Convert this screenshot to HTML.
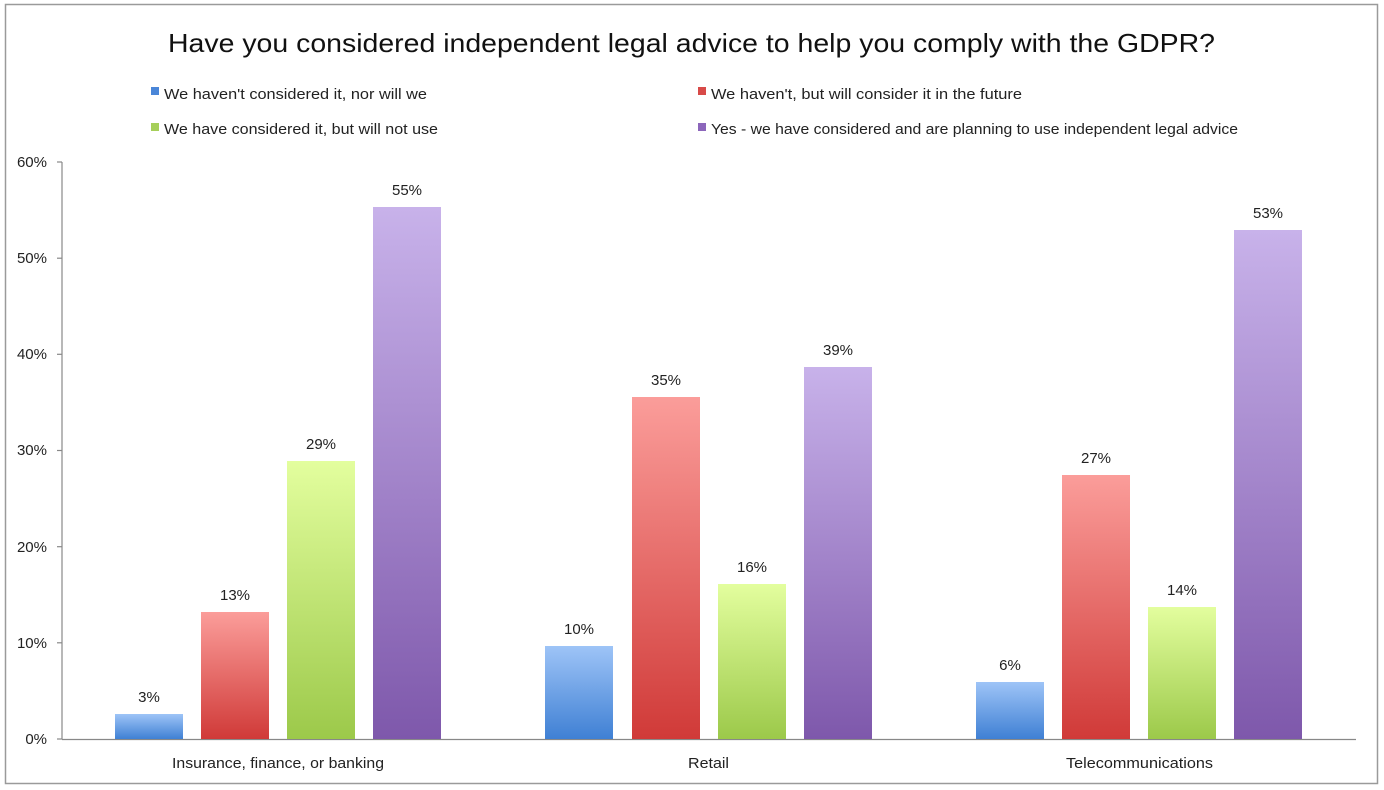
<!DOCTYPE html>
<html><head><meta charset="utf-8"><style>
html,body{margin:0;padding:0;background:#fff;}
svg{display:block;font-family:"Liberation Sans",sans-serif;}
</style></head><body>
<svg width="1384" height="790" viewBox="0 0 1384 790" xmlns="http://www.w3.org/2000/svg">
<defs>
<linearGradient id="gb" x1="0" y1="0" x2="0" y2="1"><stop offset="0" stop-color="#9ec4f7"/><stop offset="1" stop-color="#3f80d4"/></linearGradient>
<linearGradient id="gr" x1="0" y1="0" x2="0" y2="1"><stop offset="0" stop-color="#fb9d9a"/><stop offset="1" stop-color="#d03a38"/></linearGradient>
<linearGradient id="gg" x1="0" y1="0" x2="0" y2="1"><stop offset="0" stop-color="#e3fe9e"/><stop offset="1" stop-color="#9cc94a"/></linearGradient>
<linearGradient id="gp" x1="0" y1="0" x2="0" y2="1"><stop offset="0" stop-color="#c8b2ea"/><stop offset="1" stop-color="#7e58ab"/></linearGradient>
</defs>
<rect x="5.5" y="4.5" width="1372" height="779" fill="#fff" stroke="#9a9a9a" stroke-width="1.5"/>
<text x="168" y="52" font-size="26" fill="#111" textLength="1047" lengthAdjust="spacingAndGlyphs">Have you considered independent legal advice to help you comply with the GDPR?</text>
<g font-size="15" fill="#222">
<rect x="151" y="87" width="8" height="8" fill="#4a86d8"/><text x="164" y="99" textLength="263" lengthAdjust="spacingAndGlyphs">We haven't considered it, nor will we</text>
<rect x="151" y="123" width="8" height="8" fill="#a6cf5a"/><text x="164" y="134" textLength="274" lengthAdjust="spacingAndGlyphs">We have considered it, but will not use</text>
<rect x="698" y="87" width="8" height="8" fill="#d84a48"/><text x="711" y="99" textLength="311" lengthAdjust="spacingAndGlyphs">We haven't, but will consider it in the future</text>
<rect x="698" y="123" width="8" height="8" fill="#8c66bb"/><text x="711" y="134" textLength="527" lengthAdjust="spacingAndGlyphs">Yes - we have considered and are planning to use independent legal advice</text>
</g>
<g stroke="#888" stroke-width="1.2" fill="none">
<line x1="62" y1="162" x2="62" y2="739"/>
<line x1="62" y1="739.5" x2="1356" y2="739.5"/>
<line x1="57" y1="162" x2="62" y2="162"/><line x1="57" y1="258.2" x2="62" y2="258.2"/><line x1="57" y1="354.3" x2="62" y2="354.3"/><line x1="57" y1="450.5" x2="62" y2="450.5"/><line x1="57" y1="546.7" x2="62" y2="546.7"/><line x1="57" y1="642.8" x2="62" y2="642.8"/><line x1="57" y1="739" x2="62" y2="739"/>
</g>
<g font-size="15" fill="#222" text-anchor="end">
<text x="47" y="167">60%</text><text x="47" y="263">50%</text><text x="47" y="359">40%</text><text x="47" y="455">30%</text><text x="47" y="552">20%</text><text x="47" y="648">10%</text><text x="47" y="744">0%</text>
</g>
<g>
<rect x="115" y="714" width="68" height="25" fill="url(#gb)"/>
<rect x="201" y="612" width="68" height="127" fill="url(#gr)"/>
<rect x="287" y="461" width="68" height="278" fill="url(#gg)"/>
<rect x="373" y="207" width="68" height="532" fill="url(#gp)"/>
<rect x="545" y="646" width="68" height="93" fill="url(#gb)"/>
<rect x="632" y="397" width="68" height="342" fill="url(#gr)"/>
<rect x="718" y="584" width="68" height="155" fill="url(#gg)"/>
<rect x="804" y="367" width="68" height="372" fill="url(#gp)"/>
<rect x="976" y="682" width="68" height="57" fill="url(#gb)"/>
<rect x="1062" y="475" width="68" height="264" fill="url(#gr)"/>
<rect x="1148" y="607" width="68" height="132" fill="url(#gg)"/>
<rect x="1234" y="230" width="68" height="509" fill="url(#gp)"/>
</g>
<g font-size="15" fill="#222" text-anchor="middle">
<text x="149" y="702">3%</text><text x="235" y="600">13%</text><text x="321" y="449">29%</text><text x="407" y="195">55%</text>
<text x="579" y="634">10%</text><text x="666" y="385">35%</text><text x="752" y="572">16%</text><text x="838" y="355">39%</text>
<text x="1010" y="670">6%</text><text x="1096" y="463">27%</text><text x="1182" y="595">14%</text><text x="1268" y="218">53%</text>
</g>
<g font-size="15" fill="#222">
<text x="172" y="768" textLength="212" lengthAdjust="spacingAndGlyphs">Insurance, finance, or banking</text>
<text x="688" y="768" textLength="41" lengthAdjust="spacingAndGlyphs">Retail</text>
<text x="1066" y="768" textLength="147" lengthAdjust="spacingAndGlyphs">Telecommunications</text>
</g>
</svg>
</body></html>
